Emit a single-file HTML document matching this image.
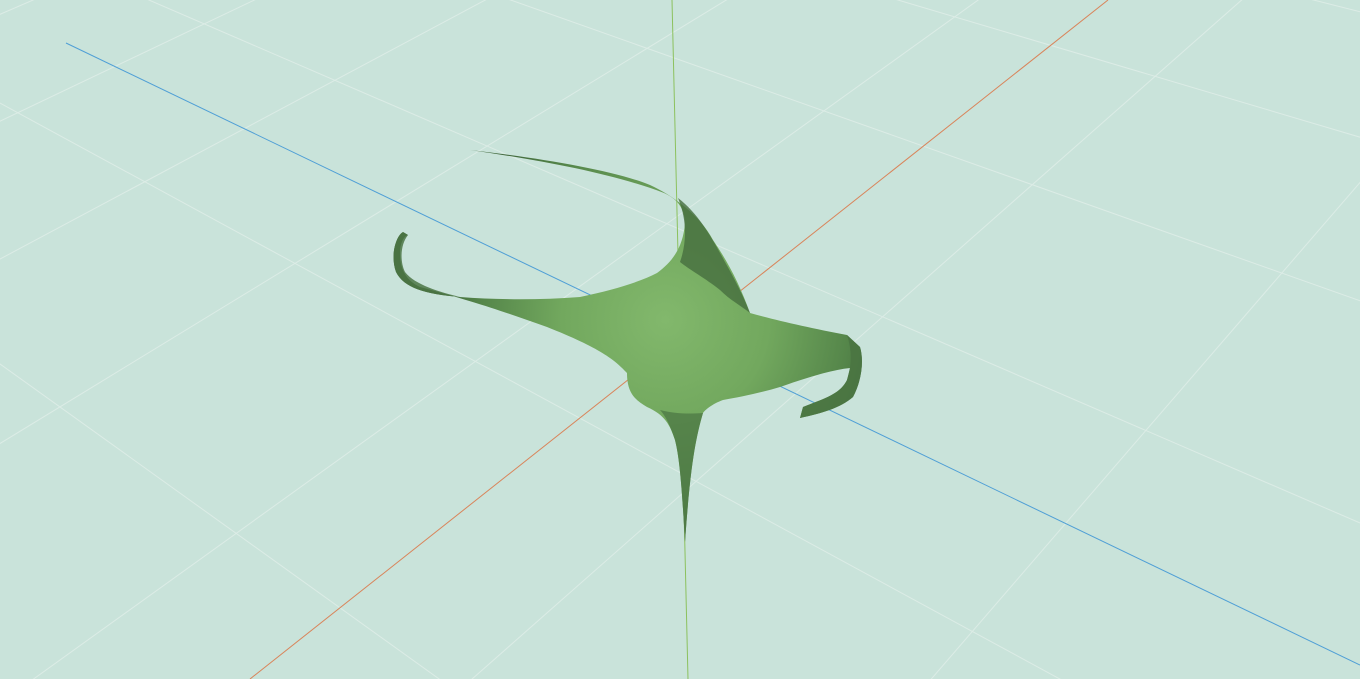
<!DOCTYPE html>
<html><head><meta charset="utf-8"><style>
html,body{margin:0;padding:0;background:#c9e3da;overflow:hidden;width:1360px;height:679px}
svg{display:block;overflow:hidden}
</style></head><body>
<svg id="chart" width="1360" height="679" viewBox="0 0 1360 679" xmlns="http://www.w3.org/2000/svg">
<defs>
<radialGradient id="bodyGrad" cx="665" cy="320" r="230" gradientUnits="userSpaceOnUse">
<stop offset="0" stop-color="#82b86c"/>
<stop offset="0.45" stop-color="#72a85e"/>
<stop offset="0.8" stop-color="#55864a"/>
<stop offset="1" stop-color="#3f663a"/>
</radialGradient>
</defs>
<rect x="0" y="0" width="1360" height="679" fill="#c9e3da"/>
<g id="grid"></g>
<line x1="66" y1="43" x2="1360" y2="665" stroke="#4f9fd6" stroke-width="1"/>
<line x1="1108" y1="0" x2="250" y2="679" stroke="#d9845a" stroke-width="1"/>
<line x1="672" y1="0" x2="688" y2="679" stroke="#8cc15e" stroke-width="1"/>
<g>
<path fill="url(#bodyGrad)" d="
M470,150 C540,158 613,170 650,185 C672,195 700,215 713,240 C728,262 740,285 750,313
C775,320 810,328 847,335 L860,347 C864,360 862,380 853,397 C840,408 823,413 800,418
L803,407 C820,400 840,395 847,380 L850,368 C830,370 800,380 780,387
C760,393 740,397 723,400 C712,404 705,410 703,413 C695,440 690,470 685,542
C682,490 680,460 675,440 C670,425 665,415 647,407 C635,400 627,393 627,373
C615,360 600,348 547,327 C510,314 480,303 420,287 C405,280 400,268 400,253
C400,243 404,236 408,235 L403,232 C396,236 390,255 396,272 C404,288 425,294 460,297
C500,300 540,300 580,297 C613,290 640,282 657,273 C672,262 683,248 685,223
C684,207 677,199 664,193 C615,174 540,160 470,150 Z"/>
<path fill="#4b7644" opacity="0.85" d="M408,235 L403,232 C396,236 390,255 396,272 C404,288 425,294 460,297 C440,292 415,285 405,272 C400,262 400,245 408,235 Z"/>
<path fill="#466e3f" opacity="0.8" d="M678,198 C700,215 713,240 725,262 C738,285 745,300 750,313 C740,305 730,300 720,290 C705,278 690,270 680,262 C686,245 688,222 678,198 Z"/>
<path fill="#4a7442" opacity="0.85" d="M847,335 L860,347 C864,360 862,380 853,397 C840,408 823,413 800,418 L803,407 C820,400 840,395 847,380 C852,365 852,350 847,335 Z"/>
<path fill="#4f7b46" opacity="0.8" d="M703,413 C695,440 690,470 685,542 C682,490 680,460 675,440 C670,425 665,415 660,410 C675,414 690,414 703,413 Z"/>
</g>
</svg>
<script>
// floor plane grid: line indices along each floor direction
var gridLines = [-6,-5,-4,-3,-2,-1,0,1,2,3,4,5,6,7,8,9,10,11,12];
var O = [680,339], VA = [-1500,-712], VB = [2400,-1022];
var alpha = 0.1, beta = 0.11, off = 0.5;
function proj(u,v){
  var d = 1 + u*alpha + v*beta;
  return [(O[0] + u*alpha*VA[0] + v*beta*VB[0])/d, (O[1] + u*alpha*VA[1] + v*beta*VB[1])/d, d];
}
var g = document.getElementById('grid');
var ns = 'http://www.w3.org/2000/svg';
function seg(a,b){
  var el = document.createElementNS(ns,'line');
  
  
  el.setAttribute('x1',a[0]);el.setAttribute('y1',a[1]);
  el.setAttribute('x2',b[0]);el.setAttribute('y2',b[1]);
  el.setAttribute('stroke','#dcece6');el.setAttribute('stroke-width','1');
  g.appendChild(el);
}
function drawLine(fixed, isU){
  var pts=[];
  for(var t=-40;t<=40;t+=0.1){
    var p = isU ? proj(fixed,t) : proj(t,fixed);
    if(p[2]>0.05 && p[0]>-3000 && p[0]<4400 && p[1]>-3000 && p[1]<3700) pts.push(p);
  }
  if(pts.length>1) seg(pts[0], pts[pts.length-1]);
}
gridLines.forEach(function(k){ drawLine(k+off,true); drawLine(k+off,false); });
</script>
</body></html>
